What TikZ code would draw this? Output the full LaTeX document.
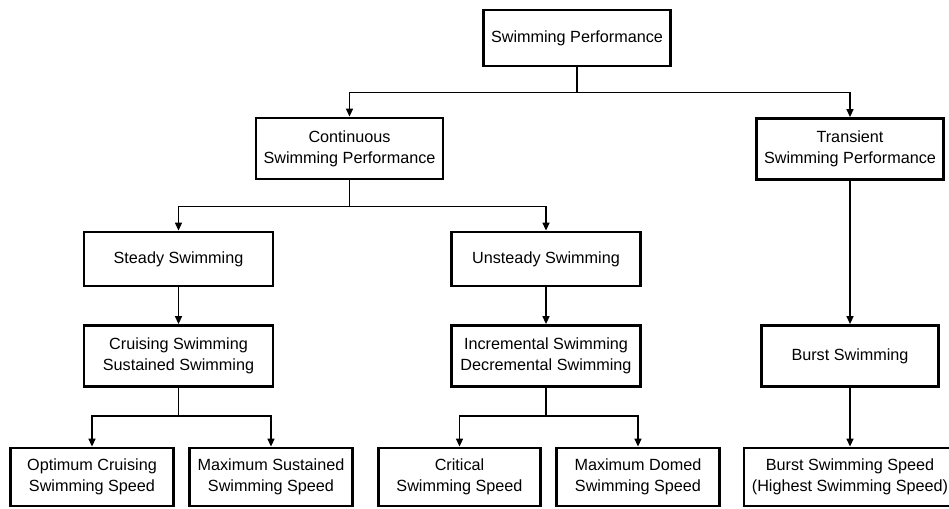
\documentclass[tikz,border=0pt]{standalone}
\usepackage{fontspec}
\setmainfont{Liberation Sans}
\usetikzlibrary{arrows.meta}
\begin{document}
\begin{tikzpicture}[x=1pt,y=-1pt,
  box/.style={draw,line width=2.8pt,align=center,inner sep=0pt,
    font=\fontsize{16.2}{21}\selectfont},
  arr/.style={line width=1.4pt,-{Triangle[length=8pt,width=7pt]}},
  ln/.style={line width=1.4pt}]
\clip (0,0) rectangle (949,508);
\fill[white] (0,0) rectangle (949,508);
\node[box,minimum width=187pt,minimum height=56pt] (top) at (577,38) {Swimming Performance};
\node[box,minimum width=187pt,minimum height=61pt] (cont) at (349.5,148.5) {Continuous\\Swimming Performance};
\node[box,minimum width=187pt,minimum height=61pt] (trans) at (850,149) {Transient\\Swimming Performance};
\node[box,minimum width=189pt,minimum height=54pt] (steady) at (178.5,259) {Steady Swimming};
\node[box,minimum width=189pt,minimum height=54pt] (unsteady) at (546,259) {Unsteady Swimming};
\node[box,minimum width=189pt,minimum height=61pt] (cruise) at (178.5,356) {Cruising Swimming\\Sustained Swimming};
\node[box,minimum width=189pt,minimum height=61pt] (incr) at (546,356) {Incremental Swimming\\Decremental Swimming};
\node[box,minimum width=177pt,minimum height=61pt] (burst) at (850,356) {Burst Swimming};
\node[box,minimum width=163pt,minimum height=58pt] (opt) at (92,477) {Optimum Cruising\\Swimming Speed};
\node[box,minimum width=163pt,minimum height=58pt] (maxsus) at (271,477) {Maximum Sustained\\Swimming Speed};
\node[box,minimum width=162pt,minimum height=58pt] (crit) at (459.5,477) {Critical\\Swimming Speed};
\node[box,minimum width=163pt,minimum height=58pt] (domed) at (638,477) {Maximum Domed\\Swimming Speed};
\node[box,minimum width=212pt,minimum height=58pt] (bspeed) at (850,477) {Burst Swimming Speed\\(Highest Swimming Speed)};
\draw[arr] (top.south) -- ++(0,25) -| (cont.north);
\draw[arr] (top.south) -- ++(0,25) -| (trans.north);
\draw[arr] (cont.south) -- ++(0,26) -| (steady.north);
\draw[arr] (cont.south) -- ++(0,26) -| (unsteady.north);
\draw[arr] (trans.south) -- (burst.north);
\draw[arr] (steady.south) -- (cruise.north);
\draw[arr] (unsteady.south) -- (incr.north);
\draw[arr] (cruise.south) -- ++(0,28) -| (opt.north);
\draw[arr] (cruise.south) -- ++(0,28) -| (maxsus.north);
\draw[arr] (incr.south) -- ++(0,28) -| (crit.north);
\draw[arr] (incr.south) -- ++(0,28) -| (domed.north);
\draw[arr] (burst.south) -- (bspeed.north);
\end{tikzpicture}
\end{document}
